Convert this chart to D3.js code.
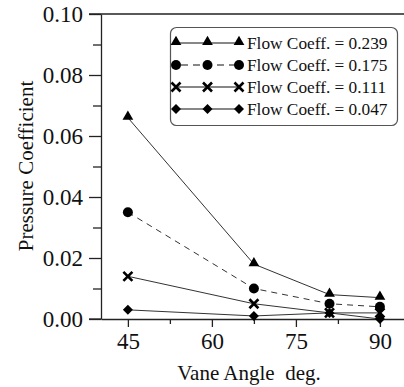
<!DOCTYPE html>
<html>
<head>
<meta charset="utf-8">
<script src="https://cdn.jsdelivr.net/npm/d3@7"></script>
<style>
  html, body { margin: 0; padding: 0; background: #fff; }
  svg { display: block; font-family: "Liberation Serif", "Times New Roman", serif; }
</style>
</head>
<body>
<svg id="chart" width="404" height="387"></svg>
<script>
// Vane angle (deg.) at which the pressure coefficient was measured
const vaneAngles = [45, 67.5, 81, 90];

// Pressure coefficient per flow coefficient
const flow0239 = [0.066, 0.018, 0.008, 0.007];
const flow0175 = [0.035, 0.010, 0.005, 0.004];
const flow0111 = [0.014, 0.005, 0.002, 0.002];
const flow0047 = [0.003, 0.001, 0.002, 0.000];

const seriesNames = ["Flow Coeff. = 0.239", "Flow Coeff. = 0.175", "Flow Coeff. = 0.111", "Flow Coeff. = 0.047"];
const seriesMarkers = ["triangle", "circle", "cross", "diamond"];
const seriesDashed = [false, true, false, false];

const xTicks = [45, 60, 75, 90];
const xMinorTicks = [52.5, 67.5, 82.5];
const yTicks = [0.00, 0.02, 0.04, 0.06, 0.08, 0.10];
const yMinorTicks = [0.01, 0.03, 0.05, 0.07, 0.09];

const series = [flow0239, flow0175, flow0111, flow0047].map((vals, i) => ({
  name: seriesNames[i],
  marker: seriesMarkers[i],
  dashed: seriesDashed[i],
  points: vals.map((v, j) => ({ x: vaneAngles[j], y: v }))
}));

const FONT = "Liberation Serif, Times New Roman, serif";
const svg = d3.select("#chart");
const plotLeft = 101, plotRight = 404, plotTop = 14, plotBottom = 319;

const x = d3.scaleLinear().domain([40.2, 94.3]).range([plotLeft, plotRight]);
const y = d3.scaleLinear().domain([0, 0.10]).range([plotBottom, plotTop]);

// Axes with outward major and minor ticks
const xAxis = svg.append("g").attr("transform", `translate(0,${plotBottom})`)
  .call(d3.axisBottom(x).tickValues(xTicks).tickFormat(d3.format("d")).tickSize(8).tickSizeOuter(0));
svg.append("g").attr("transform", `translate(0,${plotBottom})`)
  .call(d3.axisBottom(x).tickValues(xMinorTicks).tickFormat("").tickSize(5).tickSizeOuter(0))
  .select(".domain").remove();

const yAxis = svg.append("g").attr("transform", `translate(${plotLeft},0)`)
  .call(d3.axisLeft(y).tickValues(yTicks).tickFormat(d3.format(".2f")).tickSize(12).tickSizeOuter(0));
svg.append("g").attr("transform", `translate(${plotLeft},0)`)
  .call(d3.axisLeft(y).tickValues(yMinorTicks).tickFormat("").tickSize(8).tickSizeOuter(0))
  .select(".domain").remove();

svg.selectAll(".tick line, .domain").attr("stroke", "#222").attr("stroke-width", 1.3);
xAxis.selectAll(".tick text").attr("font-size", 23).attr("fill", "#111")
  .attr("font-family", FONT).attr("y", 14).attr("dy", "0.71em");
yAxis.selectAll(".tick text").attr("font-size", 23).attr("fill", "#111")
  .attr("font-family", FONT).attr("dy", "0.32em").attr("x", -18);

// x axis line runs under the left tick labels' tick, as does the top frame line
svg.append("line").attr("x1", plotLeft - 12).attr("x2", plotLeft).attr("y1", plotBottom).attr("y2", plotBottom)
  .attr("stroke", "#222").attr("stroke-width", 1.3);
svg.append("line").attr("x1", plotLeft - 12).attr("x2", plotRight).attr("y1", plotTop).attr("y2", plotTop)
  .attr("stroke", "#222").attr("stroke-width", 1.3);

// Axis titles
svg.append("text").attr("x", 249).attr("y", 380)
  .attr("text-anchor", "middle").attr("font-size", 21).attr("fill", "#111")
  .attr("font-family", FONT).attr("xml:space", "preserve")
  .text("Vane Angle  deg.");
svg.append("text").attr("transform", "translate(33,166) rotate(-90)")
  .attr("text-anchor", "middle").attr("font-size", 21).attr("fill", "#111")
  .attr("font-family", FONT)
  .text("Pressure Coefficient");

// Marker drawing
function drawMarker(g, type, cx, cy) {
  if (type === "triangle") {
    g.append("path").attr("d", d3.symbol(d3.symbolTriangle, 50)())
      .attr("transform", `translate(${cx},${cy - 1})`).attr("fill", "#000");
  } else if (type === "circle") {
    g.append("circle").attr("cx", cx).attr("cy", cy).attr("r", 5).attr("fill", "#000");
  } else if (type === "cross") {
    const s = 4.5;
    g.append("path").attr("d", `M${cx - s},${cy - s}L${cx + s},${cy + s}M${cx - s},${cy + s}L${cx + s},${cy - s}`)
      .attr("stroke", "#000").attr("stroke-width", 2.6).attr("fill", "none");
  } else if (type === "diamond") {
    const s = 5;
    g.append("path").attr("d", `M${cx},${cy - s}L${cx + s},${cy}L${cx},${cy + s}L${cx - s},${cy}Z`)
      .attr("fill", "#000");
  }
}

const line = d3.line().x(d => x(d.x)).y(d => y(d.y));
const plot = svg.append("g");
series.forEach(s => {
  plot.append("path").datum(s.points).attr("d", line)
    .attr("fill", "none").attr("stroke", "#333").attr("stroke-width", 1)
    .attr("stroke-dasharray", s.dashed ? "6,5" : null);
});
series.forEach(s => {
  const g = plot.append("g");
  s.points.forEach(p => drawMarker(g, s.marker, x(p.x), y(p.y)));
});

// Legend
const legend = svg.append("g");
legend.append("rect").attr("x", 170.5).attr("y", 27.5).attr("width", 227).attr("height", 98)
  .attr("rx", 6).attr("fill", "#fff").attr("stroke", "#555").attr("stroke-width", 1.2);
series.forEach((s, i) => {
  const ry = 43 + i * 22;
  const g = legend.append("g");
  g.append("line").attr("x1", 176).attr("x2", 239).attr("y1", ry).attr("y2", ry)
    .attr("stroke", "#111").attr("stroke-width", 1.2)
    .attr("stroke-dasharray", s.dashed ? "7,5" : null)
    .attr("stroke-dashoffset", s.dashed ? -5 : null);
  [176, 207.5, 239].forEach(mx => drawMarker(g, s.marker, mx, ry));
  g.append("text").attr("x", 247).attr("y", ry).attr("dy", "0.35em")
    .attr("font-family", FONT).attr("font-size", 17.3).attr("fill", "#111").text(s.name);
});
</script>
</body>
</html>
